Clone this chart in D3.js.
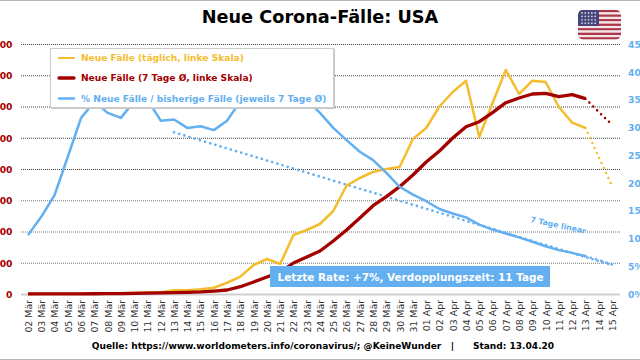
<!DOCTYPE html>
<html><head><meta charset="utf-8">
<script src="https://cdn.jsdelivr.net/npm/d3@7"></script>
<style>html,body{margin:0;padding:0;background:#fff;overflow:hidden}svg{display:block}text{font-family:"DejaVu Sans",Verdana,sans-serif}</style>
</head><body><svg id="c" width="640" height="360"></svg>
<script>
const titleText = "Neue Corona-Fälle: USA";
const footerText = "Quelle: https://www.worldometers.info/coronavirus/; @KeineWunder   |      Stand: 13.04.20";
const rateText = "Letzte Rate: +7%, Verdopplungszeit: 11 Tage";
const trendText = "7 Tage linear";
const dates = ["02 Mär","03 Mär","04 Mär","05 Mär","06 Mär","07 Mär","08 Mär","09 Mär","10 Mär","11 Mär","12 Mär","13 Mär","14 Mär","15 Mär","16 Mär","17 Mär","18 Mär","19 Mär","20 Mär","21 Mär","22 Mär","23 Mär","24 Mär","25 Mär","26 Mär","27 Mär","28 Mär","29 Mär","30 Mär","31 Mär","01 Apr","02 Apr","03 Apr","04 Apr","05 Apr","06 Apr","07 Apr","08 Apr","09 Apr","10 Apr","11 Apr","12 Apr","13 Apr","14 Apr","15 Apr"];
const daily = [20,24,22,34,74,105,95,121,200,271,287,600,590,770,1000,1800,2780,4640,5600,4800,9440,10240,11200,13280,17330,18560,19520,20000,20320,24800,26560,30000,32320,34130,25120,30560,35840,32000,34130,33920,29920,27410,26560,21920,17330];
const avg7 = [8,10,13,17,27,40,52,67,93,128,165,212,275,345,470,640,1170,1920,2720,3520,4960,5920,6880,8480,10240,12160,14130,15570,17170,19040,21120,22880,24960,26770,27570,29010,30610,31360,32000,32110,31570,31890,31250,29120,27090];
const pct = [10.6,13.9,17.8,24.7,31.7,34.6,32.6,31.7,34.7,35,31.2,31.4,29.9,30.2,29.5,31.2,34.7,35.8,36.7,37,36.7,34.9,32.6,29.9,27.7,25.6,24.1,21.8,19.3,17.9,16.7,15.3,14.5,13.8,12.5,11.6,10.9,10.2,9.4,8.6,7.9,7.4,6.8,6.1,5.3];
const trendDates = ["13 Mär","15 Apr"];
const trendPct = [29.1,5.2];
const leftTicks = [0,5000,10000,15000,20000,25000,30000,35000,40000];
const rightTicks = [0,5,10,15,20,25,30,35,40,45];
const legendLabels = ["Neue Fälle (täglich, linke Skala)","Neue Fälle (7 Tage Ø, linke Skala)","% Neue Fälle / bisherige Fälle (jeweils 7 Tage Ø)"];
const lastSolidIndex = 42;

const YEL="#f4bd2e", RED="#a30000", BLU="#63aff0";
const svg=d3.select("#c");
const x=d3.scalePoint().domain(dates).range([28,612]);
const yL=d3.scaleLinear().domain([0,40000]).range([294,44]);
const yR=d3.scaleLinear().domain([0,45]).range([294,44]);

svg.append("rect").attr("x",0).attr("y",0).attr("width",640).attr("height",1).attr("fill","#b5b5b5");
svg.append("rect").attr("x",0).attr("y",359).attr("width",640).attr("height",1).attr("fill","#b5b5b5");

// left axis with gridlines
const gL=svg.append("g").attr("transform","translate(21,0)")
 .call(d3.axisLeft(yL).tickValues(leftTicks).tickSizeInner(0).tickSizeOuter(0).tickPadding(8.5)
 .tickFormat(d=>d===0?"0":d3.format(",")(d).replace(/,/g,".")));
gL.select(".domain").remove();
gL.selectAll("text").attr("fill",RED).attr("font-size",9.2).attr("font-weight","bold").attr("font-family","DejaVu Sans").attr("dy","0.36em");
const gG=svg.append("g").attr("transform","translate(21,0)")
 .call(d3.axisRight(yL).tickValues(leftTicks).tickSizeInner(599).tickSizeOuter(0).tickFormat(""));
gG.select(".domain").remove();
gG.selectAll("line").attr("stroke",d=>d===0?"#cfcfcf":(d>=20000?"#444":"#777"))
  .attr("stroke-width",d=>d===0?2:1).attr("stroke-dasharray",d=>d===0?null:"1 1");

// right axis
const gR=svg.append("g").attr("transform","translate(628,0)")
 .call(d3.axisRight(yR).tickValues(rightTicks).tickSize(0).tickPadding(0).tickFormat(d=>d+"%"));
gR.select(".domain").remove();
gR.selectAll("text").attr("fill",BLU).attr("font-size",9.2).attr("font-weight","bold").attr("font-family","DejaVu Sans").attr("dy","0.36em");

// bottom axis
const gX=svg.append("g").attr("transform","translate(0,294)")
 .call(d3.axisBottom(x).tickSize(0));
gX.select(".domain").remove();
gX.selectAll("text").attr("transform","rotate(-90)").attr("text-anchor","end").attr("x",-6).attr("y",0).attr("dy","0.36em")
 .attr("fill","#333").attr("font-size",9.4).attr("font-family","DejaVu Sans");

const line=(ys)=>d3.line().x(d=>x(d.d)).y(d=>ys(d.v));
const pts=(vals)=>dates.map((d,i)=>({d,v:vals[i]}));
function series(vals,ys,color,w,dotW){
  const p=pts(vals);
  svg.append("path").attr("d",line(ys)(p.slice(0,lastSolidIndex+1))).attr("fill","none").attr("stroke",color).attr("stroke-width",w).attr("stroke-linejoin","round");
  svg.append("path").attr("d",line(ys)(p.slice(lastSolidIndex))).attr("fill","none").attr("stroke",color).attr("stroke-width",dotW).attr("stroke-linecap","round").attr("stroke-dasharray","0 5.5");
}
// trend
svg.append("path").attr("d",line(yR)(trendDates.map((d,i)=>({d,v:trendPct[i]})))).attr("fill","none").attr("stroke",BLU).attr("stroke-width",2.7).attr("stroke-linecap","round").attr("stroke-dasharray","0 5.4");
series(daily,yL,YEL,2.5,2.5);
series(avg7,yL,RED,3.3,2.6);
series(pct,yR,BLU,2.5,2.7);

svg.append("text").attr("x",530).attr("y",222).attr("transform","rotate(12 530 222)").attr("fill",BLU).attr("font-size",7.8).attr("font-weight","bold").text(trendText);

// legend
svg.append("rect").attr("x",51).attr("y",49).attr("width",284).attr("height",60).attr("fill","#c8c8c8");
svg.append("rect").attr("x",50.5).attr("y",48.5).attr("width",283).attr("height",59).attr("fill","#fff").attr("stroke","#cccccc");
const ly=[58,78,98.5], lc=[YEL,RED,BLU], lw=[2.2,3.3,2.4];
legendLabels.forEach((t,i)=>{
  svg.append("line").attr("x1",59).attr("x2",74).attr("y1",ly[i]).attr("y2",ly[i]).attr("stroke",lc[i]).attr("stroke-width",lw[i]).attr("stroke-linecap","round");
  svg.append("text").attr("x",81).attr("y",ly[i]+3.2).attr("fill",lc[i]).attr("font-size",9.1).attr("font-weight","bold").text(t);
});

// rate box
svg.append("rect").attr("x",270).attr("y",266).attr("width",280).attr("height",21).attr("fill",BLU);
svg.append("text").attr("x",410.5).attr("y",280.7).attr("text-anchor","middle").attr("fill","#fff").attr("font-size",10.45).attr("font-weight","bold").text(rateText);

// title + footer
svg.append("text").attr("x",320).attr("y",23).attr("text-anchor","middle").attr("fill","#000").attr("font-size",17.7).attr("font-weight","bold").text(titleText);
svg.append("text").attr("x",323).attr("y",348.5).attr("text-anchor","middle").attr("fill","#000").attr("font-size",9.05).attr("font-weight","bold").attr("xml:space","preserve").style("white-space","pre").text(footerText);

// flag
const flag=svg.append("g").attr("transform","translate(578,10)");
const cp=svg.append("defs").append("clipPath").attr("id","fc");
cp.append("rect").attr("width",43).attr("height",29.5).attr("rx",5);
const fg=flag.append("g").attr("clip-path","url(#fc)");
const stripes=d3.range(13);
const fy=d3.scaleBand().domain(stripes).range([0,29.5]);
fg.selectAll("rect.s").data(stripes).join("rect").attr("class","s").attr("x",0).attr("width",43).attr("y",d=>fy(d)).attr("height",fy.bandwidth()+0.1).attr("fill",d=>d%2?"#f1e6e8":"#ad3346");
fg.append("rect").attr("width",21).attr("height",fy.bandwidth()*7).attr("fill","#45457a");
const sx=d3.range(5), sy=d3.range(4);
sy.forEach(r=>sx.forEach(c=>fg.append("circle").attr("cx",4+c*3.3).attr("cy",3+r*3.4).attr("r",0.9).attr("fill","#cfcfe0")));
</script></body></html>
